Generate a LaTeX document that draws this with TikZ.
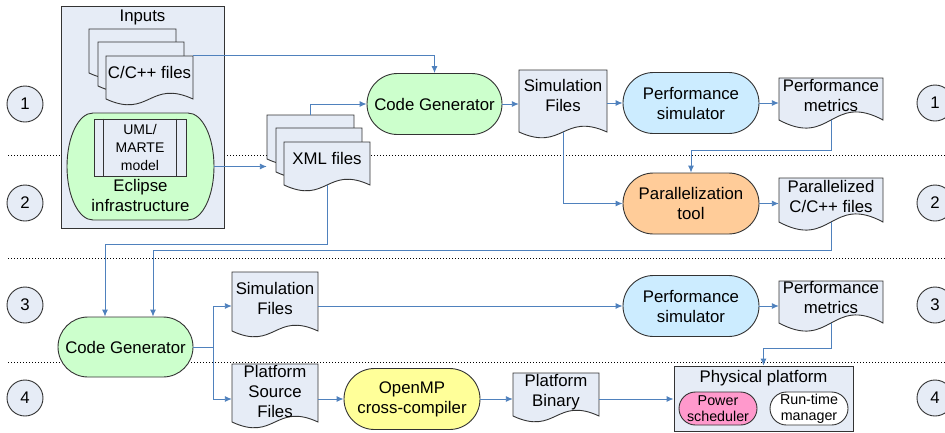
\documentclass[tikz,border=0pt]{standalone}
\usepackage{fontspec}
\setmainfont{Liberation Sans}
\usetikzlibrary{arrows.meta,calc}

\definecolor{docfill}{RGB}{230,236,246}
\definecolor{gfill}{RGB}{204,255,204}
\definecolor{bfill}{RGB}{204,236,255}
\definecolor{ofill}{RGB}{255,204,153}
\definecolor{yfill}{RGB}{255,255,153}
\definecolor{pfill}{RGB}{255,153,204}
\definecolor{conncol}{RGB}{79,129,189}

\newcommand\bigf{\fontsize{16.8}{20}\selectfont}
\newcommand\smallf{\fontsize{14.3}{16}\selectfont}
\newcommand\umlf{\fontsize{14}{18}\selectfont}

% name x0 y0 x1 yb k raise text
\newcommand\docnode[8]{%
  \pgfmathsetmacro\dmid{(#2+#4)/2}%
  \pgfmathsetmacro\dup{#5-#6}%
  \pgfmathsetmacro\ddn{#5+#6}%
  \pgfmathsetmacro\dcy{(#3+#5)/2}%
  \pgfmathsetmacro\dw{#4-#2}%
  \pgfmathsetmacro\dh{#5-#3}%
  \draw[shapeline,fill=docfill] (#2,#3) -- (#4,#3) -- (#4,#5) .. controls (\dmid,\dup) and (\dmid,\ddn) .. (#2,#5) -- cycle;
  \node[inner sep=0pt,minimum width=\dw pt,minimum height=\dh pt,font=\bigf] (#1) at (\dmid,\dcy) {\raisebox{#7pt}[\height][\depth]{\begin{tabular}{@{}c@{}}#8\end{tabular}}};%
}

\begin{document}
\begin{tikzpicture}[x=1pt,y=-1pt,
  shapeline/.style={draw=black!80,line width=0.9pt},
  stad/.style={shapeline,inner sep=0pt,minimum width=135pt,minimum height=61pt,rounded corners=30.5pt,align=center,font=\bigf},
  smallstad/.style={shapeline,inner sep=0pt,minimum width=78pt,minimum height=33pt,rounded corners=16.5pt,align=center,font=\smallf},
  conn/.style={draw=conncol,line width=0.9pt,-{Latex[length=7pt,width=6pt]}},
  sepline/.style={draw=black,line width=1pt,dash pattern=on 1.2pt off 1.8pt},
  num/.style={shapeline,fill=docfill,circle,minimum size=36pt,inner sep=0pt,font=\bigf},
  box/.style={shapeline,fill=docfill,inner sep=0pt}
]
\useasboundingbox (0,0) rectangle (945,432);

% separators
\draw[sepline] (8,155.5) -- (945,155.5);
\draw[sepline] (8,258) -- (945,258);
\draw[sepline] (8,362) -- (945,362);

% step numbers
\node[num] (n1l) at (25,104) {1};
\node[num] (n2l) at (25,203) {2};
\node[num] (n3l) at (25,305) {3};
\node[num] (n4l) at (25,398) {4};
\node[num] (n1r) at (935,103) {1};
\node[num] (n2r) at (935,203) {2};
\node[num] (n3r) at (935,305) {3};
\node[num] (n4r) at (935,398) {4};

% inputs box
\node[box,minimum width=163pt,minimum height=222pt] (inputs) at (142.5,117) {};
\node[font=\bigf,inner sep=0pt] (inputstitle) at (142.5,17) {Inputs};

\docnode{cback}{89}{29}{176}{73}{20}{0}{}
\docnode{cmid}{98}{42}{184}{86}{20}{0}{}
\docnode{cfront}{106}{56}{193}{99}{20}{3.5}{C/C++ files}

% eclipse
\draw[shapeline,fill=gfill] (93,113) -- (188,113) .. controls (202.4,113) and (214,136.9) .. (214,166.5)
  .. controls (214,196.1) and (202.4,220) .. (188,220) -- (93,220)
  .. controls (78.6,220) and (67,196.1) .. (67,166.5)
  .. controls (67,136.9) and (78.6,113) .. (93,113) -- cycle;
\node[inner sep=0pt,minimum width=147pt,minimum height=107pt,font=\bigf] (eclipse) at (140.5,166.5)
  {\raisebox{-31pt}[\height][\depth]{\begin{tabular}{@{}c@{}}Eclipse\\infrastructure\end{tabular}}};
\node[box,minimum width=92pt,minimum height=57pt,align=center,font=\umlf] (uml) at (140,147.5) {UML/\\MARTE\\model};
\draw[shapeline] ([xshift=10pt]uml.north west) -- ([xshift=10pt]uml.south west);
\draw[shapeline] ([xshift=-10pt]uml.north east) -- ([xshift=-10pt]uml.south east);

% XML
\docnode{xback}{267}{115}{354}{159}{20}{0}{}
\docnode{xmid}{276}{128}{362}{172}{20}{0}{}
\docnode{xfront}{284}{142}{370}{185}{20}{3.5}{XML files}

% row 1/2
\node[stad,fill=gfill] (cg1) at (434.5,104) {Code Generator};
\docnode{sim1}{519}{70}{607}{132}{20}{3.5}{Simulation\\Files}
\node[stad,fill=bfill,minimum width=136pt] (ps1) at (691,103) {Performance\\simulator};
\docnode{pm1}{779}{78}{883}{120}{28}{1.5}{Performance\\metrics}
\node[stad,fill=ofill,minimum width=136pt] (par) at (691,203.5) {Parallelization\\tool};
\docnode{parf}{779}{178}{883}{222}{28}{1.5}{Parallelized\\C/C++ files}

% row 3/4
\node[stad,fill=gfill,minimum height=60pt,rounded corners=30pt] (cg2) at (125.5,347) {Code Generator};
\docnode{sim2}{232}{272}{318}{331}{20}{1}{Simulation\\Files}
\node[stad,fill=bfill,minimum width=136pt] (ps2) at (691,306) {Performance\\simulator};
\docnode{pm2}{779}{281}{883}{323}{28}{3}{Performance\\metrics}
\docnode{psrc}{232}{364}{318}{422}{20}{0}{Platform\\Source\\Files}
\node[stad,fill=yfill,minimum width=136pt] (omp) at (412,399) {OpenMP\\cross-compiler};
\docnode{pbin}{513}{373}{599}{416}{20}{2}{Platform\\Binary}
\node[box,minimum width=179pt,minimum height=65pt,font=\bigf] (plat) at (763.5,398.5)
  {\raisebox{20.5pt}[\height][\depth]{Physical platform}};
\node[smallstad,fill=pfill] (pow) at (718,408.5) {Power\\scheduler};
\node[smallstad,fill=white] (rtm) at (809,408.5) {Run-time\\manager};

% bend levels
\coordinate (bendP) at (0,150);
\coordinate (bendA) at (0,244);
\coordinate (bendB) at (0,250);
\coordinate (bendC) at (0,348);
\coordinate (split) at (213,347);

% connectors
\draw[conn] (cfront.north east) -| (cg1.north);
\draw[conn] (xback.north) |- (cg1.west);
\draw[conn] (eclipse.east) -- (xback.west |- eclipse.east);
\draw[conn] (cg1.east) -- (sim1.west |- cg1.east);
\draw[conn] (sim1.east |- ps1.west) -- (ps1.west);
\draw[conn] (ps1.east) -- (pm1.west |- ps1.east);
\draw[conn] (pm1.south) -- (pm1.south |- bendP) -| (par.north);
\draw[conn] (sim1.south) |- (par.west);
\draw[conn] (par.east) -- (parf.west |- par.east);
\draw[conn] (parf.south) -- (parf.south |- bendB) -| ([xshift=27.5pt]cg2.north);
\draw[conn] (xfront.south) -- (xfront.south |- bendA) -| ([xshift=-20.5pt]cg2.north);
\draw[conn] (cg2.east) -- (split) |- (sim2.west |- ps2.west);
\draw[conn] (split) |- (psrc.west |- omp.west);
\draw[conn] (sim2.east |- ps2.west) -- (ps2.west);
\draw[conn] (ps2.east) -- (pm2.west |- ps2.east);
\draw[conn] (pm2.south) -- (pm2.south |- bendC) -| (plat.north);
\draw[conn] (psrc.east |- omp.west) -- (omp.west);
\draw[conn] (omp.east) -- (pbin.west |- omp.east);
\draw[conn] (pbin.east |- omp.east) -- (plat.west |- omp.east);
\end{tikzpicture}
\end{document}
